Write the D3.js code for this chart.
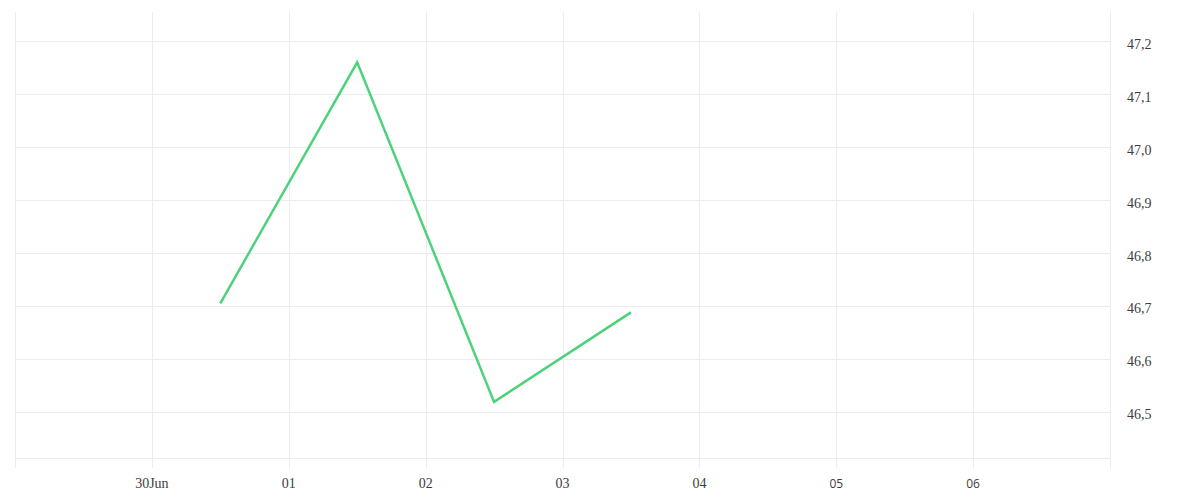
<!DOCTYPE html>
<html>
<head>
<meta charset="utf-8">
<script src="https://cdn.jsdelivr.net/npm/d3@7"></script>
<style>
  html, body { margin: 0; padding: 0; background: #fff; }
  svg { display: block; }
</style>
</head>
<body>
<svg id="chart" width="1200" height="500"></svg>
<script>
// ---- data ----
const dates = ["2024-06-30T12:00", "2024-07-01T12:00", "2024-07-02T12:00", "2024-07-03T12:00"];
const values = [46.705, 47.16, 46.519, 46.688];
const xDomain = ["2024-06-29T00:00", "2024-07-07T00:00"];
const xTickDates = ["2024-06-29", "2024-06-30", "2024-07-01", "2024-07-02", "2024-07-03", "2024-07-04", "2024-07-05", "2024-07-06", "2024-07-07"];
const xTickLabels = ["", "30Jun", "01", "02", "03", "04", "05", "06", ""];
const yDomain = [46.413, 47.255];
const yTicks = [46.5, 46.6, 46.7, 46.8, 46.9, 47.0, 47.1, 47.2];

// ---- layout ----
const svg = d3.select("#chart");
const margin = { left: 15, right: 90, top: 12, bottom: 42 };
const W = 1200, H = 500;
const parse = d3.timeParse("%Y-%m-%dT%H:%M");
const parseDay = d3.timeParse("%Y-%m-%d");

const x = d3.scaleTime()
  .domain(xDomain.map(parse))
  .range([margin.left, W - margin.right]);
const y = d3.scaleLinear()
  .domain(yDomain)
  .range([H - margin.bottom, margin.top]);

const locale = d3.formatLocale({ decimal: ",", thousands: ".", grouping: [3], currency: ["", "€"] });
const fmtY = locale.format(".1f");

const gridColor = "#ececec";
const textColor = "#3d3d3d";

// horizontal grid lines
svg.append("g")
  .selectAll("line")
  .data(yTicks)
  .join("line")
  .attr("x1", margin.left).attr("x2", W - margin.right)
  .attr("y1", d => Math.round(y(d)) + 0.5).attr("y2", d => Math.round(y(d)) + 0.5)
  .attr("stroke", gridColor).attr("stroke-width", 1);

// bottom axis line
svg.append("line")
  .attr("x1", margin.left).attr("x2", W - margin.right)
  .attr("y1", H - margin.bottom + 0.5).attr("y2", H - margin.bottom + 0.5)
  .attr("stroke", gridColor);

// vertical grid lines + ticks
const xt = xTickDates.map(parseDay);
svg.append("g")
  .selectAll("line")
  .data(xt)
  .join("line")
  .attr("x1", d => Math.round(x(d)) + 0.5).attr("x2", d => Math.round(x(d)) + 0.5)
  .attr("y1", margin.top).attr("y2", H - margin.bottom + 10)
  .attr("stroke", gridColor).attr("stroke-width", 1);

// x labels
svg.append("g")
  .selectAll("text")
  .data(xt.map((d, i) => ({ d, label: xTickLabels[i], i })))
  .join("text")
  .attr("x", o => x(o.d))
  .attr("y", 488)
  .attr("text-anchor", "middle")
  .attr("fill", textColor)
  .style("font-family", o => (o.i >= 6 ? "'Open Sans', sans-serif" : "'Liberation Serif', serif"))
  .style("font-size", o => (o.i >= 6 ? "12px" : "14px"))
  .text(o => o.label);

// y labels (right)
svg.append("g")
  .selectAll("text")
  .data(yTicks)
  .join("text")
  .attr("x", W - margin.right + 17)
  .attr("y", d => y(d) + 7.5)
  .attr("fill", textColor)
  .style("font-family", "'Liberation Serif', serif")
  .style("font-size", "14px")
  .text(d => fmtY(d));

// line
const pts = dates.map((d, i) => ({ t: parse(d), v: values[i] }));
svg.append("path")
  .datum(pts)
  .attr("fill", "none")
  .attr("stroke", "#4cd27b")
  .attr("stroke-width", 2.5)
  .attr("stroke-linejoin", "miter")
  .attr("d", d3.line().x(d => x(d.t)).y(d => y(d.v)));
</script>
</body>
</html>
